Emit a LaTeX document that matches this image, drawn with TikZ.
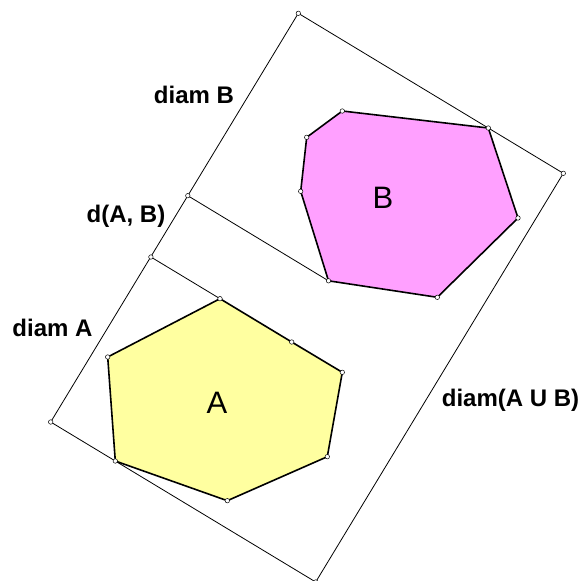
\documentclass[tikz,border=0pt]{standalone}
\usepackage{fontspec}
\setmainfont{Liberation Sans}
\definecolor{pinkB}{RGB}{255,160,255}
\definecolor{yellowA}{RGB}{255,255,160}

\begin{document}
\begin{tikzpicture}[x=1pt, y=-1pt,
  dot/.style={circle,draw,fill=white,inner sep=0pt,minimum size=4.5pt,line width=0.5pt},
  side/.style={line width=0.8pt},
  hull/.style={draw,line width=1.6pt},
  lbl/.style={font=\fontsize{24}{28}\selectfont\bfseries,anchor=base,inner sep=0pt},
  big/.style={font=\fontsize{31}{36}\selectfont,anchor=base,inner sep=0pt}]

	\useasboundingbox (0,0) rectangle (582,581);

	% Corners of the strip
	\coordinate (T) at (298.3,13.3);
	\coordinate (R) at (563.3,173.3);
	\coordinate (L) at (50.7,422);
	\coordinate (D) at (315.7,582);
	% Points on the left side
	\coordinate (P) at (187.8,195.7);
	\coordinate (Q) at (150.9,257);

	% Polygon B
	\coordinate (b1) at (342.3,111);
	\coordinate (b2) at (306.7,137.3);
	\coordinate (b3) at (300.7,191.3);
	\coordinate (b4) at (328.5,280.8);
	\coordinate (b5) at (437.3,297.3);
	\coordinate (b6) at (518,218);
	\coordinate (b7) at (488.3,128);

	% Polygon A
	\coordinate (a1) at (220,298.7);
	\coordinate (a2) at (291.7,342);
	\coordinate (a3) at (342.3,372.3);
	\coordinate (a4) at (327.3,456.7);
	\coordinate (a5) at (227.3,500.7);
	\coordinate (a6) at (115.3,461);
	\coordinate (a7) at (107.7,357);

	% Fills
	\fill[pinkB] (b1) -- (b2) -- (b3) -- (b4) -- (b5) -- (b6) -- (b7) -- cycle;
	\fill[yellowA] (a1) -- (a2) -- (a3) -- (a4) -- (a5) -- (a6) -- (a7) -- cycle;

	% Strip and distance lines
	\draw[side] (T) -- (R) -- (D) -- (L) -- cycle;
	\draw[side] (P) -- (b4);
	\draw[side] (Q) -- (a1);

	% Outlines
	\draw[hull] (b1) -- (b2) -- (b3) -- (b4) -- (b5) -- (b6) -- (b7) -- cycle;
	\draw[hull] (a1) -- (a2) -- (a3) -- (a4) -- (a5) -- (a6) -- (a7) -- cycle;

	% Vertex marks
	\foreach \p in {T,R,L,D,P,Q,a1,a2,a3,a4,a5,a6,a7,b1,b2,b3,b4,b5,b6,b7}
		\node[dot] at (\p) {};

	% Labels
	\node[big] (nameB) at (383,208.3) {B};
	\node[big] (nameA) at (217,413.3) {A};
	\node[lbl] (diamB) at (194,103) {diam B};
	\node[lbl] (dist) at (126,222.7) {d(A, B)};
	\node[lbl] (diamA) at (52.5,336.7) {diam A};
	\node[lbl] (diamAB) at (510.5,406.7) {diam(A U B)};

\end{tikzpicture}
\end{document}
